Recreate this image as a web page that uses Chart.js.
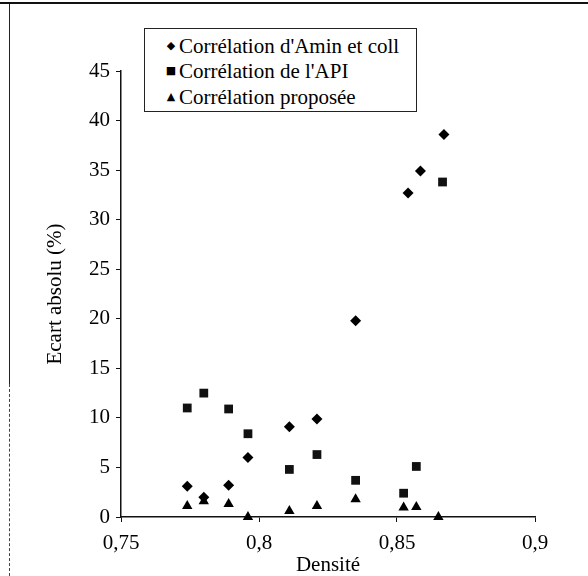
<!DOCTYPE html>
<html>
<head>
<meta charset="utf-8">
<script src="https://cdn.jsdelivr.net/npm/chart.js@4.4.1/dist/chart.umd.min.js"></script>
<style>
    html, body { margin: 0; padding: 0; background: #fff; }
    #wrap { position: relative; width: 588px; height: 576px; overflow: hidden; }
    #frameTop { position: absolute; left: 0; top: 2px; width: 588px; border-top: 2px solid #111; }
    #frameLeft { position: absolute; left: 9px; top: 4px; height: 380px; border-left: 1.5px solid #222; }
    #frameLeft2 { position: absolute; left: 9px; top: 384px; height: 192px; border-left: 1.5px dashed #444; }
    #legend {
        position: absolute; left: 144px; top: 28px; width: 273px; height: 84px;
        box-sizing: border-box; border: 1px solid #222; background: #fff;
        font-family: 'Liberation Serif', 'DejaVu Serif', 'Times New Roman', Times, serif; font-size: 21px; color: #000;
    }
    .row { position: absolute; left: 0; height: 26px; line-height: 26px; white-space: nowrap; }
    .mk { position: absolute; left: 20px; width: 12px; text-align: center; font-family: 'DejaVu Sans', sans-serif; font-size: 11px; }
    .txt { position: absolute; left: 34px; }
</style>
</head>
<body>
<div id="wrap">
    <canvas id="chart" width="588" height="576"></canvas>
    <div id="frameTop"></div>
    <div id="frameLeft"></div>
    <div id="frameLeft2"></div>
    <div id="legend"></div>
</div>
<script>
// series names
const seriesNames = ["Corrélation d'Amin et coll", "Corrélation de l'API", 'Corrélation proposée'];
const legendMarks = ['\u25C6', '\u25A0', '\u25B2'];

// Corrélation d'Amin et coll (diamonds)
const densAmin = [0.774, 0.780, 0.789, 0.796, 0.811, 0.821, 0.835, 0.854, 0.8585, 0.867];
const ecartAmin = [3.1, 2.0, 3.2, 6.0, 9.1, 9.9, 19.8, 32.7, 34.9, 38.6];

// Corrélation de l'API (squares)
const densApi = [0.774, 0.780, 0.789, 0.796, 0.811, 0.821, 0.835, 0.8524, 0.857, 0.8665];
const ecartApi = [11.0, 12.5, 10.9, 8.4, 4.8, 6.3, 3.7, 2.4, 5.1, 33.8];

// Corrélation proposée (triangles)
const densProp = [0.774, 0.780, 0.789, 0.796, 0.811, 0.821, 0.835, 0.8524, 0.857, 0.865];
const ecartProp = [1.1, 1.6, 1.3, 0.0, 0.6, 1.1, 1.8, 0.95, 1.0, 0.0];

// tick labels
const xTicks = [0.75, 0.8, 0.85, 0.9];
const yTicks = [0, 5, 10, 15, 20, 25, 30, 35, 40, 45];

function pts(xs, ys) {
    return xs.map((x, i) => ({ x: x, y: ys[i] }));
}

// html legend
const legendEl = document.getElementById('legend');
const rowCenters = [17, 42, 68];
seriesNames.forEach((name, i) => {
    const row = document.createElement('div');
    row.className = 'row';
    row.style.top = (rowCenters[i] - 13) + 'px';
    row.innerHTML = '<span class="mk">' + legendMarks[i] + '</span><span class="txt"></span>';
    row.querySelector('.txt').textContent = name;
    legendEl.appendChild(row);
});

Chart.defaults.font.family = "'Liberation Serif', 'DejaVu Serif', 'Times New Roman', Times, serif";
Chart.defaults.color = '#000';

const ctx = document.getElementById('chart').getContext('2d');

new Chart(ctx, {
    type: 'scatter',
    data: {
        datasets: [{
            label: seriesNames[0],
            data: pts(densAmin, ecartAmin),
            pointStyle: 'rectRot',
            pointRadius: 5.5,
            backgroundColor: '#000',
            borderColor: '#000',
            borderWidth: 0,
            clip: false
        }, {
            label: seriesNames[1],
            data: pts(densApi, ecartApi),
            pointStyle: 'rect',
            pointRadius: 6.2,
            backgroundColor: '#111',
            borderColor: '#000',
            borderWidth: 0,
            clip: false
        }, {
            label: seriesNames[2],
            data: pts(densProp, ecartProp),
            pointStyle: 'triangle',
            pointRadius: 6,
            backgroundColor: '#000',
            borderColor: '#000',
            borderWidth: 0,
            clip: false
        }]
    },
    options: {
        responsive: false,
        animation: false,
        layout: {
            padding: { top: 71, right: 53, left: 0, bottom: 0 }
        },
        plugins: {
            legend: { display: false },
            tooltip: { enabled: false }
        },
        scales: {
            x: {
                type: 'linear',
                min: 0.75,
                max: 0.9,
                afterBuildTicks: function(scale) {
                    scale.ticks = xTicks.map(v => ({ value: v }));
                },
                afterFit: function(scale) {
                    scale.height = 59;
                },
                border: { display: true, color: '#111', width: 1.5 },
                grid: {
                    display: true,
                    drawOnChartArea: false,
                    drawTicks: true,
                    tickLength: 5,
                    color: '#111'
                },
                ticks: {
                    padding: 9,
                    font: { size: 21 },
                    color: '#000',
                    callback: function(v) {
                        return String(v).replace('.', ',');
                    }
                },
                title: {
                    display: true,
                    text: 'Densité',
                    font: { size: 21 },
                    color: '#000',
                    padding: { top: 0, bottom: -2 }
                }
            },
            y: {
                type: 'linear',
                min: 0,
                max: 45,
                afterBuildTicks: function(scale) {
                    scale.ticks = yTicks.map(v => ({ value: v }));
                },
                afterFit: function(scale) {
                    scale.width = 121;
                },
                border: { display: true, color: '#111', width: 1.5 },
                grid: {
                    display: true,
                    drawOnChartArea: false,
                    drawTicks: true,
                    tickLength: 5,
                    color: '#111'
                },
                ticks: {
                    padding: 6,
                    font: { size: 21 },
                    color: '#000'
                },
                title: {
                    display: true,
                    text: 'Ecart absolu (%)',
                    font: { size: 21 },
                    color: '#000',
                    padding: { top: 43, bottom: 0 }
                }
            }
        }
    }
});
</script>
</body>
</html>
